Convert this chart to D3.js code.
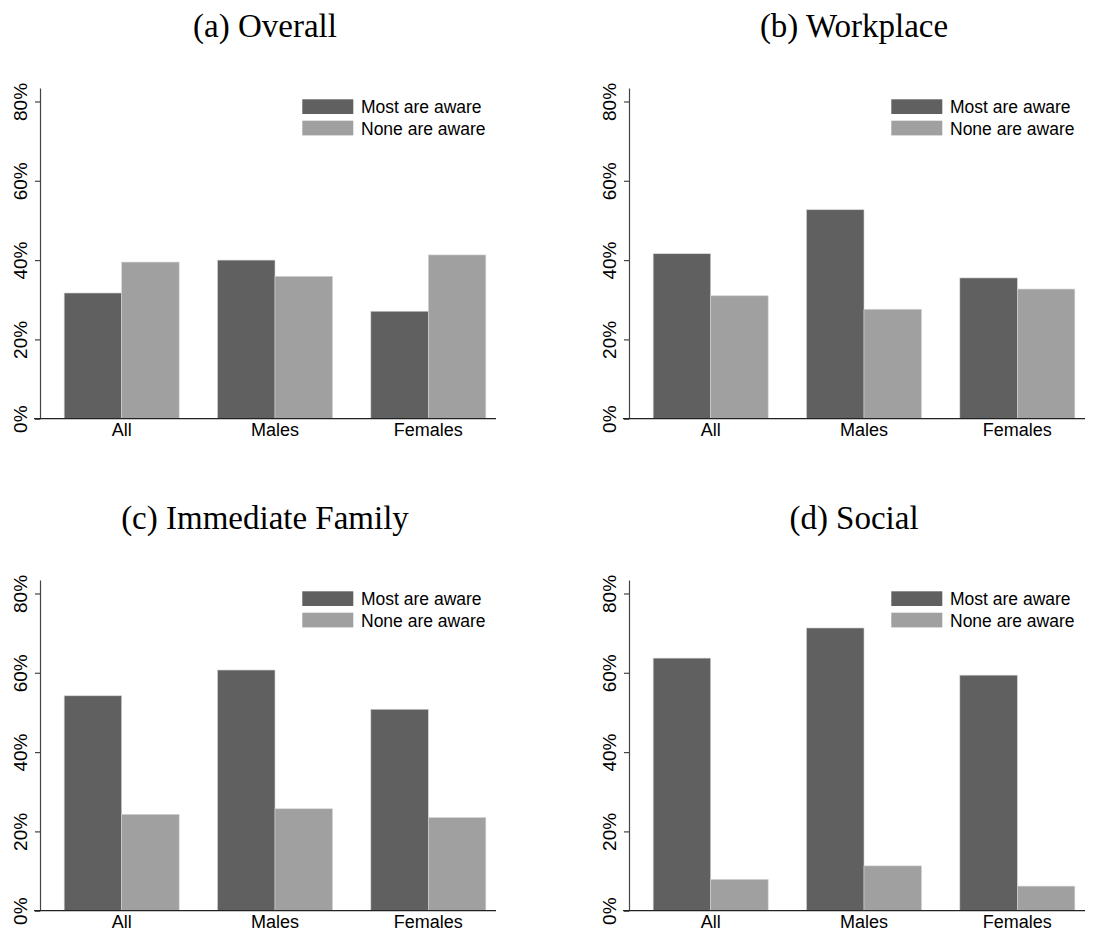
<!DOCTYPE html>
<html>
<head>
<meta charset="utf-8">
<script src="https://cdn.jsdelivr.net/npm/d3@7"></script>
<style>
  html, body { margin: 0; padding: 0; background: #fff; }
  svg { display: block; }
</style>
</head>
<body>
<svg id="chart" width="1093" height="930"></svg>
<script>
// ---- data ----
const categories = ["All", "Males", "Females"];
const seriesNames = ["Most are aware", "None are aware"];
const panelTitles = ["(a) Overall", "(b) Workplace", "(c) Immediate Family", "(d) Social"];
const mostAware = [
  [31.7, 40.0, 27.1],
  [41.6, 52.7, 35.5],
  [54.2, 60.7, 50.8],
  [63.7, 71.3, 59.4]
];
const noneAware = [
  [39.5, 35.9, 41.3],
  [31.0, 27.6, 32.7],
  [24.3, 25.7, 23.5],
  [7.9, 11.3, 6.2]
];
const yTicks = [0, 20, 40, 60, 80];
const yMax = 83.4;

// ---- style ----
const colors = ["#606060", "#a0a0a0"];
const sansFont = "'Liberation Sans', Arial, Helvetica, sans-serif";
const serifFont = "'Liberation Serif', 'Times New Roman', serif";

const svg = d3.select("#chart");

const panelOffsets = [[0, 0], [589, 0], [0, 492], [589, 492]];

const y = d3.scaleLinear().domain([0, yMax]).range([418.7, 88]);
const x = d3.scaleBand().domain(categories).range([45, 505]).paddingInner(0.25).paddingOuter(0.125);
const xs = d3.scaleBand().domain(seriesNames).range([0, x.bandwidth()]);

panelTitles.forEach((title, i) => {
  const g = svg.append("g").attr("transform", `translate(${panelOffsets[i][0]},${panelOffsets[i][1]})`);

  // title
  g.append("text")
    .attr("x", 265).attr("y", 37)
    .attr("text-anchor", "middle")
    .style("font-family", serifFont)
    .style("font-size", "33px")
    .attr("fill", "#000")
    .text(title);

  const rows = categories.map((c, j) => ({ cat: c, vals: [mostAware[i][j], noneAware[i][j]] }));

  // bars
  const groups = g.append("g").selectAll("g.grp").data(rows).join("g")
    .attr("class", "grp")
    .attr("transform", d => `translate(${x(d.cat)},0)`);
  groups.selectAll("rect").data(d => d.vals.map((v, k) => ({ s: seriesNames[k], v, k })))
    .join("rect")
    .attr("x", d => xs(d.s))
    .attr("width", xs.bandwidth())
    .attr("y", d => y(d.v))
    .attr("height", d => y(0) - y(d.v))
    .attr("fill", d => colors[d.k])
    .attr("stroke", "#d4d4d4")
    .attr("stroke-width", 0.6);

  // y axis
  const ya = g.append("g").attr("transform", "translate(40,0)")
    .call(d3.axisLeft(y).tickValues(yTicks).tickSize(5).tickSizeOuter(0).tickFormat(d => d + "%"));
  ya.select(".domain").attr("stroke", "#444").attr("stroke-width", 1.2);
  ya.selectAll(".tick line").attr("stroke", "#444").attr("stroke-width", 1.2);
  ya.selectAll(".tick text")
    .attr("transform", "rotate(-90)")
    .attr("x", 0).attr("y", -13).attr("dy", 0)
    .attr("text-anchor", "middle")
    .style("font-family", sansFont)
    .style("font-size", "19px")
    .attr("fill", "#000");

  // x axis
  const xa = g.append("g").attr("transform", `translate(0,${y(0)})`)
    .call(d3.axisBottom(x).tickSize(0).tickPadding(5));
  xa.select(".domain").remove();
  xa.selectAll(".tick text")
    .style("font-family", sansFont)
    .style("font-size", "18px")
    .attr("fill", "#000");
  g.append("line")
    .attr("x1", x.range()[0] - 11).attr("x2", x.range()[1] - 9)
    .attr("y1", y(0)).attr("y2", y(0))
    .attr("stroke", "#222").attr("stroke-width", 1.2);

  // legend
  const lg = g.append("g").attr("transform", "translate(302.3,99.3)");
  seriesNames.forEach((s, k) => {
    lg.append("rect")
      .attr("x", 0).attr("y", k * 21.4)
      .attr("width", 51).attr("height", 14.7)
      .attr("fill", colors[k]);
    lg.append("text")
      .attr("x", 58.7).attr("y", k * 21.4 + 14)
      .style("font-family", sansFont)
      .style("font-size", "17.5px")
      .attr("fill", "#000")
      .text(s);
  });
});
</script>
</body>
</html>
